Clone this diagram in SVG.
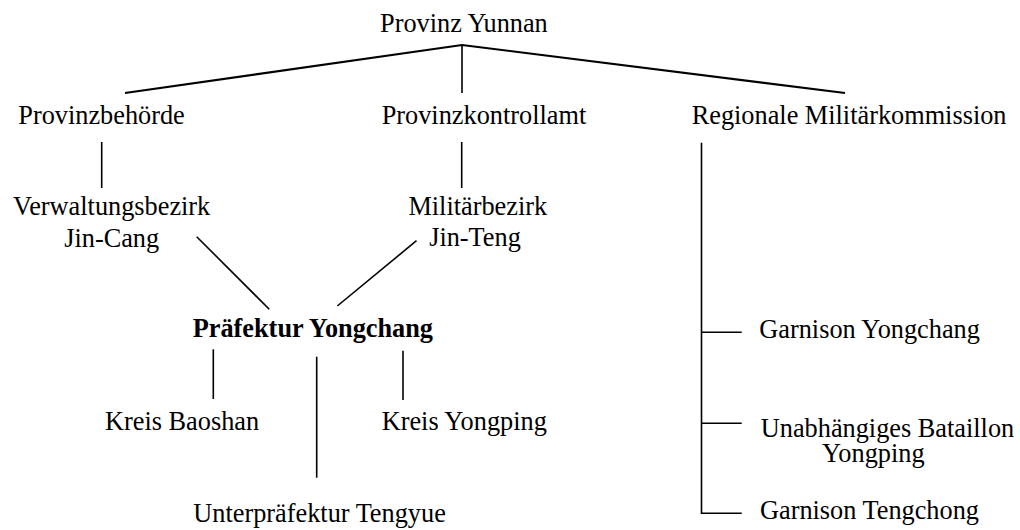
<svg xmlns="http://www.w3.org/2000/svg" width="1020" height="530" viewBox="0 0 1020 530">
<style>
text{font-family:"Liberation Serif","Times New Roman",serif;font-size:26.3px;fill:#000}
.b{font-weight:bold}
.c{stroke:#000;stroke-width:1.6;fill:none}
.t{stroke:#000;stroke-width:2.2;fill:none}
</style>
<rect width="1020" height="530" fill="#fff"/>
<g id="connectors">
<polyline class="t" points="125,93 462,45 845,93"/>
<line class="c" x1="462" y1="45" x2="462" y2="93"/>
<line class="c" x1="101.7" y1="142" x2="101.7" y2="188"/>
<line class="c" x1="461.7" y1="142" x2="461.7" y2="188"/>
<line class="c" x1="196.7" y1="236.7" x2="269.3" y2="309.3"/>
<line class="c" x1="416.5" y1="240.7" x2="337.3" y2="306"/>
<line class="c" x1="213.3" y1="349.3" x2="213.3" y2="399"/>
<line class="c" x1="316.7" y1="356.7" x2="316.7" y2="477.7"/>
<line class="c" x1="403" y1="350.7" x2="403" y2="400"/>
<polyline class="c" points="701.5,142.7 701.5,513.3 741.7,513.3"/>
<line class="c" x1="701.5" y1="332.3" x2="741.7" y2="332.3"/>
<line class="c" x1="701.5" y1="423.3" x2="741.7" y2="423.3"/>
</g>
<g id="n-yunnan"><text x="380" y="31.5">Provinz Yunnan</text></g>
<g id="n-behoerde"><text x="18.3" y="124">Provinzbehörde</text></g>
<g id="n-kontrollamt"><text x="381.7" y="124">Provinzkontrollamt</text></g>
<g id="n-militaerkommission"><text x="691.7" y="124">Regionale Militärkommission</text></g>
<g id="n-jincang"><text x="111.7" y="215" text-anchor="middle">Verwaltungsbezirk</text><text x="111.7" y="246.5" text-anchor="middle">Jin-Cang</text></g>
<g id="n-jinteng"><text x="477.8" y="215" text-anchor="middle">Militärbezirk</text><text x="475" y="245.5" text-anchor="middle">Jin-Teng</text></g>
<g id="n-yongchang"><text class="b" x="192.7" y="336.7">Präfektur Yongchang</text></g>
<g id="n-baoshan"><text x="105" y="430">Kreis Baoshan</text></g>
<g id="n-yongping"><text x="381.7" y="430">Kreis Yongping</text></g>
<g id="n-tengyue"><text x="193.3" y="521.5">Unterpräfektur Tengyue</text></g>
<g id="n-garnison-yongchang"><text x="759.3" y="338">Garnison Yongchang</text></g>
<g id="n-bataillon"><text x="887.5" y="436.5" text-anchor="middle">Unabhängiges Bataillon</text><text x="873.3" y="461.5" text-anchor="middle">Yongping</text></g>
<g id="n-garnison-tengchong"><text x="760" y="518.5">Garnison Tengchong</text></g>
</svg>
